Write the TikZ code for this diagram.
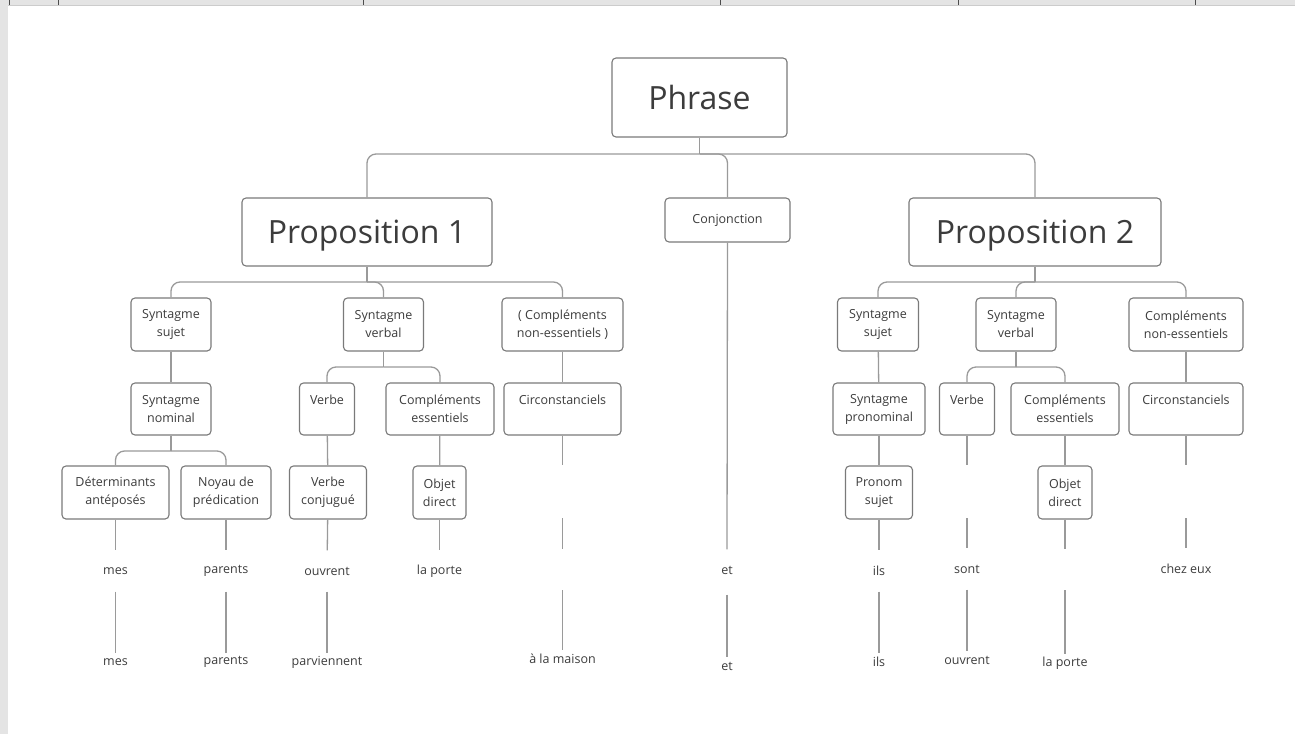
\documentclass[tikz,border=0pt]{standalone}
\usepackage{fontspec}
\setmainfont{Open Sans}
\definecolor{boxline}{HTML}{7A7A7A}
\definecolor{conn}{HTML}{9A9A9A}
\definecolor{txt}{HTML}{3C3C3C}
\definecolor{strip}{HTML}{E4E4E4}
\tikzset{
  every node/.style={text=txt, inner sep=0pt},
  bigbox/.style={draw=boxline, line width=1.1pt, rounded corners=4pt, font=\fontsize{32}{38}\selectfont, fill=white, text depth=0pt},
  smallbox/.style={draw=boxline, line width=1.1pt, rounded corners=4pt, font=\fontsize{12.5}{18}\selectfont, align=center, fill=white},
  wordnode/.style={font=\fontsize{12.5}{18}\selectfont, minimum height=41pt},
  lastword/.style={font=\fontsize{12.5}{18}\selectfont, minimum height=18pt},
  ghost3/.style={minimum height=53pt, minimum width=10pt},
  conline/.style={draw=conn, line width=1.3pt},
  branch/.style={conline, rounded corners=9pt},
}
\begin{document}
\begin{tikzpicture}[x=1pt, y=-1pt]
\useasboundingbox (0,0) rectangle (1295,734);
% screenshot artifacts
\fill[strip] (0,0) rectangle (1295,5);
\draw[draw=black!20, line width=0.6pt] (0,5) -- (1295,5);
\fill[strip] (0,5) rectangle (8,734);
\foreach \xx in {9,58,363,720,958,1195} \draw[black!70, line width=0.8pt] (\xx,0) -- (\xx,5);

% level 0-1
\node[bigbox, minimum width=175pt, minimum height=79pt] (phrase) at (699.5,97.5) {Phrase};
\node[bigbox, minimum width=250pt, minimum height=68pt] (p1) at (367,232) {Proposition 1};
\node[smallbox, minimum width=125pt, minimum height=44pt] (conj) at (727.5,220) {Conjonction};
\node[bigbox, minimum width=252pt, minimum height=68pt] (p2) at (1035,232) {Proposition 2};

% left level 2
\node[smallbox, minimum width=80pt, minimum height=53pt] (lss) at (171,324.5) {Syntagme\\sujet};
\node[smallbox, minimum width=80pt, minimum height=53pt] (lsv) at (383.5,324.5) {Syntagme\\verbal};
\node[smallbox, minimum width=121pt, minimum height=53pt] (lcne) at (562.5,324.5) {( Compléments\\non-essentiels )};
% left level 3
\node[smallbox, minimum width=80pt, minimum height=52pt] (lsn) at (171,409) {Syntagme\\nominal};
\node[smallbox, minimum width=55pt, minimum height=52pt] (lv) at (327,409) {Verbe\\\phantom{x}};
\node[smallbox, minimum width=108pt, minimum height=52pt] (lce) at (440,409) {Compléments\\essentiels};
\node[smallbox, minimum width=117pt, minimum height=52pt] (lci) at (562.5,409) {Circonstanciels\\\phantom{x}};
% left level 4
\node[smallbox, minimum width=107pt, minimum height=53pt] (det) at (115.5,492.5) {Déterminants\\antéposés};
\node[smallbox, minimum width=90pt, minimum height=53pt] (noy) at (226,492.5) {Noyau de\\prédication};
\node[smallbox, minimum width=77pt, minimum height=53pt] (vc) at (328,492.5) {Verbe\\conjugué};
\node[smallbox, minimum width=53pt, minimum height=53pt] (lod) at (439.5,492.5) {Objet\\direct};
\node[ghost3] (lg3) at (562.5,491.5) {};
% left words
\node[wordnode] (w1) at (115.5,571) {mes};
\node[wordnode] (w2) at (226,571) {parents};
\node[wordnode] (w3) at (327,571) {ouvrent};
\node[wordnode] (w4) at (439.5,571) {la porte};
\node[wordnode, minimum width=10pt] (lg4) at (562.5,569.5) {};
\node[lastword] (x1) at (115.5,662) {mes};
\node[lastword] (x2) at (226,662) {parents};
\node[lastword] (x3) at (327,662) {parviennent};
\node[lastword] (x5) at (562.5,659) {à la maison};

% conjonction words
\node[wordnode] (et1) at (727,570) {et};
\node[lastword] (et2) at (727,666) {et};

% right level 2
\node[smallbox, minimum width=81pt, minimum height=53pt] (rss) at (878,324.5) {Syntagme\\sujet};
\node[smallbox, minimum width=80pt, minimum height=53pt] (rsv) at (1016,324.5) {Syntagme\\verbal};
\node[smallbox, minimum width=114pt, minimum height=53pt] (rcne) at (1186,324.5) {Compléments\\non-essentiels};
% right level 3
\node[smallbox, minimum width=92pt, minimum height=52pt] (rsp) at (879,409) {Syntagme\\pronominal};
\node[smallbox, minimum width=55pt, minimum height=52pt] (rv) at (967,409) {Verbe\\\phantom{x}};
\node[smallbox, minimum width=108pt, minimum height=52pt] (rce) at (1065,409) {Compléments\\essentiels};
\node[smallbox, minimum width=114pt, minimum height=52pt] (rci) at (1186,409) {Circonstanciels\\\phantom{x}};
% right level 4
\node[smallbox, minimum width=67pt, minimum height=53pt] (ps) at (879,492.5) {Pronom\\sujet};
\node[ghost3] (rvg) at (967,491.5) {};
\node[smallbox, minimum width=54pt, minimum height=53pt] (rod) at (1065,492.5) {Objet\\direct};
\node[ghost3] (rcg) at (1186,491.5) {};
% right words
\node[wordnode] (y1) at (879,571) {ils};
\node[wordnode] (y2) at (967,569) {sont};
\node[wordnode, minimum width=10pt] (y3) at (1065,569.5) {};
\node[wordnode] (y4) at (1186,569) {chez eux};
\node[lastword] (z1) at (879,662) {ils};
\node[lastword] (z2) at (967,660) {ouvrent};
\node[lastword] (z3) at (1065,663) {la porte};

% ---- connectors ----
\coordinate (j0) at (phrase.south |- 0,154);
\draw[conline] (phrase.south) -- (j0);
\draw[branch] (j0) -| (p1.north);
\draw[branch] (j0) -| (conj.north);
\draw[branch] (j0) -| (p2.north);

\coordinate (j1) at (p1.south |- 0,282);
\draw[conline] (p1.south) -- (j1);
\draw[branch] (j1) -| (lss.north);
\draw[branch] (j1) -| (lsv.north);
\draw[branch] (j1) -| (lcne.north);

\coordinate (j2) at (p2.south |- 0,282);
\draw[conline] (p2.south) -- (j2);
\draw[branch] (j2) -| (rss.north);
\draw[branch] (j2) -| (rsv.north);
\draw[branch] (j2) -| (rcne.north);

\coordinate (j3) at (lsv.south |- 0,367);
\draw[conline] (lsv.south) -- (j3);
\draw[branch] (j3) -| (lv.north);
\draw[branch] (j3) -| (lce.north);

\coordinate (j4) at (lsn.south |- 0,451);
\draw[conline] (lsn.south) -- (j4);
\draw[branch] (j4) -| (det.north);
\draw[branch] (j4) -| (noy.north);

\coordinate (j5) at (rsv.south |- 0,367);
\draw[conline] (rsv.south) -- (j5);
\draw[branch] (j5) -| (rv.north);
\draw[branch] (j5) -| (rce.north);

% straight lines
\draw[conline] (lss) -- (lsn);
\draw[conline] (lv) -- (vc);
\draw[conline] (lce) -- (lod);
\draw[conline] (lcne) -- (lci);
\draw[conline] (lci.south) -- (lg3.north);
\draw[conline] (lg3.south) -- (lg4.north);
\draw[conline] (lg4.south) -- (x5.north);
\draw[conline] (det) -- (w1);
\draw[conline] (w1) -- (x1);
\draw[conline] (noy) -- (w2);
\draw[conline] (w2) -- (x2);
\draw[conline] (vc) -- (w3);
\draw[conline] (w3) -- (x3);
\draw[conline] (lod) -- (w4);

\draw[conline] (conj.south) -- (et1.north);
\draw[conline] (et1.south) ++(0,4) -- (et2.north);

\draw[conline] (rss) -- (rsp);
\draw[conline] (rsp) -- (ps);
\draw[conline] (ps) -- (y1);
\draw[conline] (y1) -- (z1);
\draw[conline] (rv.south) -- (rvg.north);
\draw[conline] (rvg.south) -- (y2.north);
\draw[conline] (y2.south) -- (z2.north);
\draw[conline] (rce) -- (rod);
\draw[conline] (rod) -- (y3);
\draw[conline] (y3.south) -- (z3.north);
\draw[conline] (rcne) -- (rci);
\draw[conline] (rci.south) -- (rcg.north);
\draw[conline] (rcg.south) -- (y4.north);
\end{tikzpicture}
\end{document}
